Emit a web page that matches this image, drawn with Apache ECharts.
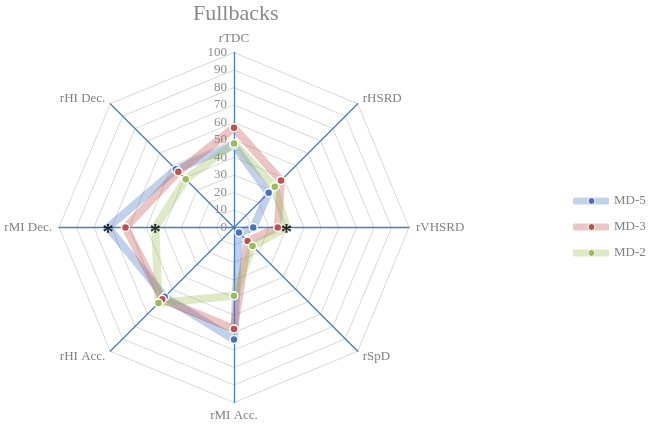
<!DOCTYPE html>
<html>
<head>
<meta charset="utf-8">
<script src="https://cdn.jsdelivr.net/npm/echarts@6/dist/echarts.min.js"></script>
<style>html,body{margin:0;padding:0;background:#fff;}#c{width:672px;height:425px;}</style>
</head>
<body>
<div id="c"></div>
<script>
// Axes, clockwise from the top
const categories = ['rTDC', 'rHSRD', 'rVHSRD', 'rSpD', 'rMI Acc.', 'rHI Acc.', 'rMI Dec.', 'rHI Dec.'];
const seriesNames = ['MD-5', 'MD-3', 'MD-2'];
const md5 = [47, 28, 11, 4, 64, 56, 72, 47];
const md3 = [57, 38, 25, 11, 58, 58, 62, 45];
const md2 = [48, 33, 30, 15, 39, 61, 45, 39];
const tickLabels = ['0', '10', '20', '30', '40', '50', '60', '70', '80', '90', '100'];
// points drawn as asterisks instead of dots
const starred = { 'MD-5': ['rMI Dec.'], 'MD-3': [], 'MD-2': ['rVHSRD', 'rMI Dec.'] };

const values = [md5, md3, md2];
const colors = ['#4472C4', '#C0504D', '#9BBB59'];
const lightColors = ['#c3d2ec', '#ecc5c4', '#dde8c7'];
const FONT = 'Liberation Serif';

// ECharts radar runs counter-clockwise; reorder so the picture runs clockwise
const ecOrder = [0, 7, 6, 5, 4, 3, 2, 1];
const reorder = arr => ecOrder.map(k => arr[k]);

const labelStyle = { color: '#8c8c8c', fontFamily: FONT, fontSize: 13, margin: 7,
  formatter: v => tickLabels[Math.round(v / 10)] };

const chart = echarts.init(document.getElementById('c'), null, { renderer: 'canvas' });

const radarSeries = {
  type: 'radar',
  symbol: 'none',
  silent: true,
  data: seriesNames.map((n, s) => ({
    name: n,
    value: reorder(values[s]),
    itemStyle: { color: colors[s] },
    lineStyle: { color: colors[s], width: 8, opacity: 0.33, join: 'round', cap: 'round' },
    areaStyle: { opacity: 0 }
  }))
};

const dotSeries = seriesNames.map((n, s) => ({
  type: 'scatter',
  name: n,
  coordinateSystem: 'polar',
  symbol: 'circle',
  symbolSize: 8,
  silent: true,
  itemStyle: { color: colors[s], borderColor: '#fff', borderWidth: 1.5, opacity: 1 },
  z: 5,
  data: categories.map((c, i) => starred[n].indexOf(c) >= 0 ? null : [values[s][i], i * 45]).filter(d => d)
}));

const starData = [];
seriesNames.forEach((n, s) => {
  starred[n].forEach(c => {
    const i = categories.indexOf(c);
    starData.push([values[s][i], i * 45]);
  });
});
const starSeries = {
  type: 'scatter',
  coordinateSystem: 'polar',
  symbolSize: 1,
  silent: true,
  itemStyle: { color: 'rgba(0,0,0,0)' },
  z: 6,
  label: { show: true, formatter: '*', position: 'inside', color: '#000', fontFamily: FONT,
    fontSize: 23, fontWeight: 'bold', offset: [0, 6] },
  data: starData
};

chart.setOption({
  animation: false,
  backgroundColor: '#fff',
  title: {
    text: 'Fullbacks', left: 188, top: -2,
    textStyle: { color: '#8a8a8a', fontFamily: FONT, fontSize: 22, fontWeight: 'normal' }
  },
  legend: [{
    orient: 'vertical', left: 568, top: 188, itemWidth: 36, itemHeight: 7, icon: 'roundRect',
    itemGap: 10, selectedMode: false,
    textStyle: { color: '#808080', fontFamily: FONT, fontSize: 13, lineHeight: 16 },
    data: seriesNames.map((n, s) => ({ name: n, itemStyle: { color: lightColors[s], borderWidth: 0 } }))
  }, {
    orient: 'vertical', left: 582.5, top: 188, itemWidth: 7, itemHeight: 7, icon: 'circle',
    itemGap: 10, selectedMode: false, formatter: () => ' ',
    textStyle: { color: '#808080', fontFamily: FONT, fontSize: 13, lineHeight: 16 },
    data: seriesNames.map((n, s) => ({ name: n, itemStyle: { color: colors[s], borderColor: '#fff', borderWidth: 1 } }))
  }],
  radar: {
    center: [234, 227.5],
    radius: 175,
    startAngle: 90,
    shape: 'polygon',
    splitNumber: 10,
    nameGap: 7,
    axisName: { color: '#808080', fontFamily: FONT, fontSize: 13 },
    axisLine: { lineStyle: { color: '#4a7cc8', width: 1.3 } },
    splitLine: { lineStyle: { color: '#d9d9d9', width: 1 } },
    splitArea: { show: false },
    axisTick: { show: false },
    axisLabel: Object.assign({ show: false }, labelStyle),
    indicator: ecOrder.map((k, j) => {
      const ind = { name: categories[k], min: 0, max: 100 };
      if (j === 0) ind.axisLabel = Object.assign({ show: true, showMinLabel: true, showMaxLabel: true }, labelStyle);
      return ind;
    })
  },
  polar: { center: [234, 227.5], radius: 175 },
  angleAxis: { type: 'value', min: 0, max: 360, startAngle: 90, clockwise: true, show: false },
  radiusAxis: { type: 'value', min: 0, max: 100, show: false },
  series: [radarSeries].concat(dotSeries, [starSeries])
});
</script>
</body>
</html>
